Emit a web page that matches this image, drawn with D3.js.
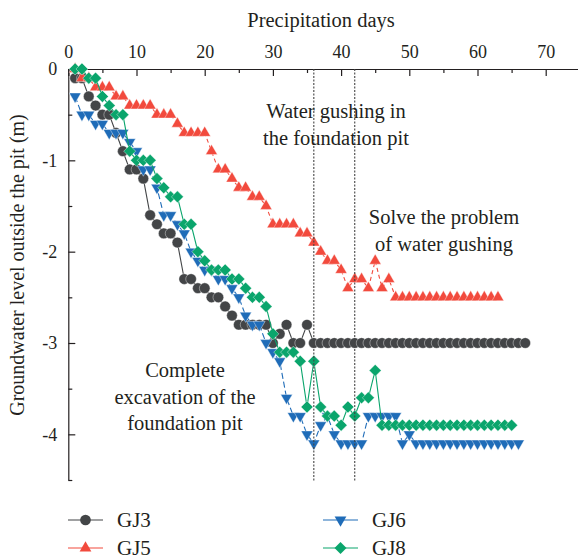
<!DOCTYPE html>
<html>
<head>
<meta charset="utf-8">
<title>Groundwater level outside the pit</title>
<style>
    body { margin: 0; background: #fff; }
    svg text { font-family: "Liberation Serif", "Times New Roman", serif; fill: #231f20; }
</style>
</head>
<body>
<svg id="chart" width="578" height="560"></svg>
<script src="https://cdn.jsdelivr.net/npm/d3@7"></script>
<script>
// days of observation (shared x values)
var days = [1,2,3,4,5,6,7,8,9,10,11,12,13,14,15,16,17,18,19,20,21,22,23,24,25,26,27,28,29,30,
    31,32,33,34,35,36,37,38,39,40,41,42,43,44,45,46,47,48,49,50,51,52,53,54,55,56,57,58,59,60,
    61,62,63,64,65,66,67];

// groundwater level (m), one value per day
var gj3 = [-0.1,-0.1,-0.3,-0.4,-0.5,-0.5,-0.7,-0.9,-1.1,-1.1,-1.2,-1.6,-1.7,-1.8,-1.8,-1.9,-2.3,-2.3,-2.4,-2.4,
    -2.5,-2.5,-2.6,-2.7,-2.8,-2.8,-2.8,-2.8,-2.8,-3.0,-2.9,-2.8,-3.0,-3.0,-2.8,-3.0,-3.0,-3.0,-3.0,-3.0,
    -3.0,-3.0,-3.0,-3.0,-3.0,-3.0,-3.0,-3.0,-3.0,-3.0,-3.0,-3.0,-3.0,-3.0,-3.0,-3.0,-3.0,-3.0,-3.0,-3.0,
    -3.0,-3.0,-3.0,-3.0,-3.0,-3.0,-3.0];
var gj5 = [0,-0.1,-0.1,-0.2,-0.2,-0.2,-0.3,-0.3,-0.4,-0.4,-0.4,-0.4,-0.5,-0.5,-0.5,-0.6,-0.7,-0.7,-0.7,-0.7,
    -0.9,-1.1,-1.1,-1.2,-1.3,-1.3,-1.4,-1.4,-1.5,-1.7,-1.7,-1.7,-1.7,-1.8,-1.8,-1.9,-2.0,-2.1,-2.1,-2.2,
    -2.4,-2.3,-2.3,-2.4,-2.1,-2.4,-2.3,-2.5,-2.5,-2.5,-2.5,-2.5,-2.5,-2.5,-2.5,-2.5,-2.5,-2.5,-2.5,-2.5,
    -2.5,-2.5,-2.5];
var gj6 = [-0.3,-0.5,-0.5,-0.6,-0.6,-0.7,-0.7,-0.7,-0.8,-0.9,-1.1,-1.1,-1.3,-1.6,-1.6,-1.7,-1.8,-2.0,-2.1,-2.2,
    -2.2,-2.3,-2.3,-2.4,-2.5,-2.7,-2.8,-2.8,-3.0,-3.1,-3.2,-3.6,-3.8,-3.8,-4.0,-4.1,-3.9,-3.8,-4.0,-4.1,
    -4.1,-4.1,-4.1,-3.8,-3.8,-3.8,-3.8,-3.8,-4.1,-4.0,-4.1,-4.1,-4.1,-4.1,-4.1,-4.1,-4.1,-4.1,-4.1,-4.1,
    -4.1,-4.1,-4.1,-4.1,-4.1,-4.1];
var gj8 = [0,0,-0.1,-0.1,-0.3,-0.4,-0.5,-0.5,-0.9,-1.0,-1.0,-1.0,-1.2,-1.3,-1.4,-1.4,-1.7,-1.7,-2.0,-2.1,
    -2.2,-2.2,-2.2,-2.3,-2.3,-2.4,-2.5,-2.5,-2.6,-2.9,-3.1,-3.1,-3.1,-3.2,-3.7,-3.2,-3.7,-3.8,-3.8,-3.9,
    -3.7,-3.8,-3.6,-3.6,-3.3,-3.9,-3.9,-3.9,-3.9,-3.9,-3.9,-3.9,-3.9,-3.9,-3.9,-3.9,-3.9,-3.9,-3.9,-3.9,
    -3.9,-3.9,-3.9,-3.9,-3.9];

var xTicks = [0,10,20,30,40,50,60,70];
var xMinor = [5,15,25,35,45,55,65,75];
var yTicks = [0,-1,-2,-3,-4];
var yMinor = [-0.5,-1.5,-2.5,-3.5,-4.5];
var eventDays = [36,42];

var svg = d3.select("#chart");
var ink = "#231f20";

var x = d3.scaleLinear().domain([0, 75]).range([68.3, 579.8]);
var y = d3.scaleLinear().domain([-4.5, 0]).range([480, 69]);

// x axis on top, ticks pointing inward
svg.append("g").attr("transform", "translate(0," + y(0) + ")")
    .call(d3.axisTop(x).tickValues(xTicks).tickSize(-7).tickSizeOuter(0).tickPadding(11)
        .tickFormat(function (d) { return String(d); }));
svg.append("g").attr("transform", "translate(0," + y(0) + ")")
    .call(d3.axisTop(x).tickValues(xMinor).tickSize(-4).tickFormat(""))
    .call(function (g) { g.select(".domain").remove(); });

// y axis
svg.append("g").attr("transform", "translate(" + x(0) + ",0)")
    .call(d3.axisLeft(y).tickValues(yTicks).tickSize(-7).tickSizeOuter(0).tickPadding(11)
        .tickFormat(function (d) { return String(d); }));
svg.append("g").attr("transform", "translate(" + x(0) + ",0)")
    .call(d3.axisLeft(y).tickValues(yMinor).tickSize(-4).tickFormat(""))
    .call(function (g) { g.select(".domain").remove(); });

svg.selectAll(".domain, .tick line").attr("stroke", ink).attr("stroke-width", 1.2);
svg.selectAll(".tick text").attr("font-size", 18);

// axis titles
svg.append("text").attr("x", 321).attr("y", 27).attr("text-anchor", "middle")
    .attr("font-size", 20.5).text("Precipitation days");
svg.append("text").attr("transform", "translate(24,265) rotate(-90)").attr("text-anchor", "middle")
    .attr("font-size", 20).text("Groundwater level outside the pit (m)");

// series
var series = [
    {name: "GJ3", values: gj3, color: "#434547", shape: "circle", dash: null},
    {name: "GJ5", values: gj5, color: "#f24a3d", shape: "up", dash: "4,3"},
    {name: "GJ6", values: gj6, color: "#1f6cb8", shape: "down", dash: "6,3"},
    {name: "GJ8", values: gj8, color: "#0aa56c", shape: "diamond", dash: null}
];

function symbolPath(shape) {
    if (shape == "circle") return d3.symbol().type(d3.symbolCircle).size(90)();
    if (shape == "diamond") return d3.symbol().type(d3.symbolSquare).size(72)();
    return d3.symbol().type(d3.symbolTriangle).size(60)();
}
function symbolRotate(shape) {
    if (shape == "down") return " rotate(180)";
    if (shape == "diamond") return " rotate(45)";
    return "";
}

var line = d3.line()
    .x(function (d) { return x(d.day); })
    .y(function (d) { return y(d.v); });

series.forEach(function (s) {
    var pts = s.values.map(function (v, i) { return {day: days[i], v: v}; });
    svg.append("path").datum(pts)
        .attr("d", line)
        .attr("fill", "none")
        .attr("stroke", s.color)
        .attr("stroke-width", 1.1)
        .attr("stroke-dasharray", s.dash);
    svg.append("g").selectAll("path")
        .data(pts)
        .enter()
        .append("path")
        .attr("d", symbolPath(s.shape))
        .attr("transform", function (d) {
            return "translate(" + x(d.day) + "," + y(d.v) + ")" + symbolRotate(s.shape);
        })
        .attr("fill", s.color)
        .attr("stroke", "#fff")
        .attr("stroke-width", 0.4);
});

// event lines
svg.append("g").selectAll("line")
    .data(eventDays)
    .enter()
    .append("line")
    .attr("x1", function (d) { return x(d); })
    .attr("x2", function (d) { return x(d); })
    .attr("y1", y(0))
    .attr("y2", 482)
    .attr("stroke", "#444")
    .attr("stroke-width", 1.1)
    .attr("stroke-dasharray", "2,1.5");

// annotations
var notes = [
    {x: 336, y: 118, lines: ["Water gushing in", "the foundation pit"]},
    {x: 444, y: 224, lines: ["Solve the problem", "of water gushing"]},
    {x: 185, y: 377, lines: ["Complete", "excavation of the", "foundation pit"]}
];
notes.forEach(function (n) {
    var t = svg.append("text").attr("text-anchor", "middle").attr("font-size", 20.5);
    n.lines.forEach(function (l, i) {
        t.append("tspan").attr("x", n.x).attr("y", n.y + i * 26.5).text(l);
    });
});

// legend
var legendPos = [
    {x: 68, y: 520}, {x: 68, y: 548}, {x: 323, y: 520}, {x: 323, y: 548}
];
series.forEach(function (s, i) {
    var p = legendPos[i];
    var g = svg.append("g").attr("transform", "translate(" + p.x + "," + p.y + ")");
    g.append("line").attr("x1", 0).attr("x2", 35).attr("y1", 0).attr("y2", 0)
        .attr("stroke", s.color).attr("stroke-width", 1.2);
    g.append("path").attr("d", symbolPath(s.shape))
        .attr("transform", "translate(17.5,0)" + symbolRotate(s.shape))
        .attr("fill", s.color);
    g.append("text").attr("x", 49).attr("y", 7).attr("font-size", 21).text(s.name);
});
</script>
</body>
</html>
